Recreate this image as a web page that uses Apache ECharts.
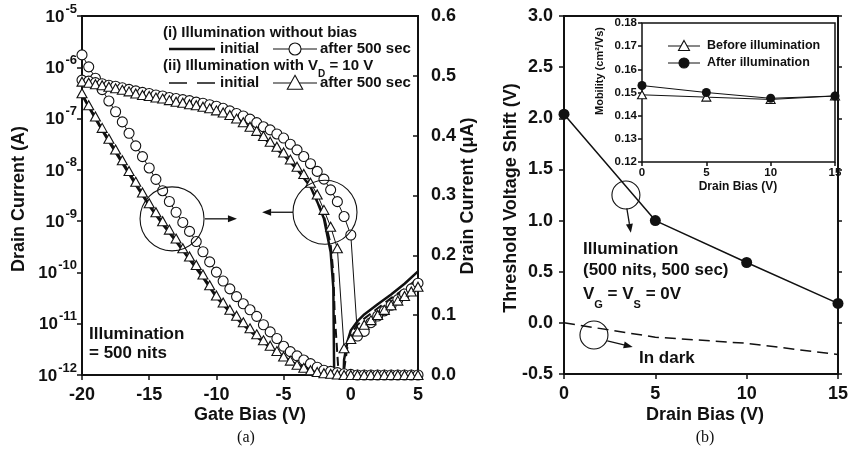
<!DOCTYPE html>
<html>
<head>
<meta charset="utf-8">
<script src="https://cdn.jsdelivr.net/npm/echarts@6/dist/echarts.min.js"></script>
<style>
  html, body { margin: 0; padding: 0; background: #fff; }
  #chart { width: 851px; height: 451px; }
</style>
</head>
<body>
<div id="chart"></div>
<script>
const FONT = '"Liberation Sans", Arial, sans-serif';
const INK = '#111';

// ---------- panel (a): transfer curves ----------
// gate bias of the marker curves (V)
const gateBias = [-20, -19.5, -19, -18.5, -18, -17.5, -17, -16.5, -16, -15.5, -15, -14.5, -14, -13.5, -13,
  -12.5, -12, -11.5, -11, -10.5, -10, -9.5, -9, -8.5, -8, -7.5, -7, -6.5, -6, -5.5, -5, -4.5, -4, -3.5, -3,
  -2.5, -2, -1.5, -1, -0.5, 0, 0.5, 1, 1.5, 2, 2.5, 3, 3.5, 4, 4.5, 5];

// log10 of drain current (A)
const logAfterNoBias = [-6.25, -6.27, -6.30, -6.32, -6.35, -6.37, -6.40, -6.43, -6.46, -6.49, -6.51, -6.54, -6.56,
  -6.59, -6.61, -6.63, -6.65, -6.68, -6.70, -6.73, -6.76, -6.80, -6.85, -6.90, -6.95, -7.01, -7.08, -7.16, -7.22,
  -7.30, -7.38, -7.50, -7.61, -7.74, -7.88, -8.03, -8.18, -8.39, -8.62, -8.91, -9.27, -11.24, -11.15, -10.98,
  -10.85, -10.75, -10.64, -10.53, -10.42, -10.32, -10.21];
const logAfterVd = [-6.28, -6.30, -6.33, -6.35, -6.38, -6.41, -6.44, -6.47, -6.51, -6.54, -6.56, -6.59, -6.61,
  -6.64, -6.67, -6.69, -6.72, -6.74, -6.77, -6.80, -6.84, -6.88, -6.93, -7.00, -7.07, -7.16, -7.24, -7.34, -7.45,
  -7.55, -7.66, -7.80, -7.94, -8.08, -8.25, -8.48, -8.78, -9.11, -9.53, -11.48, -11.30, -11.15, -11.02, -10.93,
  -10.83, -10.73, -10.64, -10.55, -10.46, -10.37, -10.28];

// plain (initial) log curves, own sampling around the drop
const gateLogLine = [-20, -19, -18, -17, -16, -15, -14, -13, -12, -11, -10, -9, -8, -7, -6, -5, -4, -3,
  -2.5, -2, -1.5, -1.3, -1.2, -0.65, -0.5, -0.25, 0, 0.5, 1, 2, 3, 4, 5];
const logInitNoBias = [-6.27, -6.32, -6.38, -6.44, -6.51, -6.57, -6.62, -6.68, -6.73, -6.79, -6.86, -6.95, -7.09,
  -7.27, -7.48, -7.71, -7.99, -8.33, -8.62, -8.95, -9.6, -10.3, -13, -13, -11.7, -11.35, -11.13, -10.95, -10.82,
  -10.62, -10.43, -10.22, -9.98];
const logInitVd = [-6.29, -6.34, -6.39, -6.45, -6.52, -6.58, -6.63, -6.69, -6.74, -6.80, -6.87, -6.96, -7.10,
  -7.28, -7.49, -7.72, -7.99, -8.32, -8.6, -8.9, -9.45, -10.0, -10.8, -13, -11.9, -11.45, -11.2, -11.02, -10.9,
  -10.7, -10.5, -10.32, -10.12];

// linear drain current (uA), right axis
const linAfterNoBias = [0.535, 0.515, 0.496, 0.477, 0.458, 0.440, 0.423, 0.404, 0.383, 0.365, 0.346, 0.327, 0.308,
  0.290, 0.272, 0.255, 0.240, 0.223, 0.206, 0.189, 0.172, 0.157, 0.144, 0.131, 0.119, 0.109, 0.098, 0.084, 0.072,
  0.061, 0.048, 0.039, 0.032, 0.025, 0.019, 0.013, 0.008, 0.006, 0.004, 0.002, 0.001, 0, 0, 0, 0, 0, 0, 0, 0, 0, 0];
const linAfterVd = [0.471, 0.451, 0.432, 0.413, 0.395, 0.377, 0.359, 0.341, 0.323, 0.305, 0.287, 0.272, 0.257,
  0.243, 0.228, 0.212, 0.198, 0.184, 0.168, 0.150, 0.133, 0.121, 0.109, 0.099, 0.088, 0.078, 0.068, 0.058, 0.049,
  0.040, 0.031, 0.024, 0.017, 0.012, 0.008, 0.005, 0.003, 0.002, 0.001, 0, 0, 0, 0, 0, 0, 0, 0, 0, 0, 0, 0];
const gateLinLine = [-20, -19, -18, -17, -16, -15, -14, -13, -12, -11, -10, -9, -8, -7, -6, -5, -4, -3, -2, -1,
  0, 1, 2, 3, 4, 5];
const linInitNoBias = [0.468, 0.428, 0.390, 0.354, 0.318, 0.283, 0.252, 0.223, 0.193, 0.163, 0.130, 0.105, 0.084,
  0.064, 0.046, 0.030, 0.017, 0.0085, 0.003, 0.0008, 0, 0, 0, 0, 0, 0];
const linInitVd = [0.470, 0.430, 0.392, 0.356, 0.320, 0.285, 0.254, 0.225, 0.195, 0.165, 0.132, 0.106, 0.085,
  0.065, 0.047, 0.031, 0.018, 0.009, 0.0035, 0.001, 0, 0, 0, 0, 0, 0];

// ---------- panel (b): threshold shift ----------
const drainBias = [0, 5, 10, 15];
const shiftLight = [2.04, 1.0, 0.59, 0.19];
const shiftDark = [0, -0.14, -0.2, -0.31];
const mobBefore = [0.149, 0.148, 0.147, 0.1485];
const mobAfter = [0.153, 0.150, 0.1475, 0.1485];

const pairs = (xs, ys) => xs.map((x, i) => [x, ys[i]]);
const pow10 = (xs, ys) => xs.map((x, i) => [x, Math.pow(10, ys[i])]);

const lbl = (size, extra) => Object.assign({ fontFamily: FONT, fontWeight: 'bold', fontSize: size, color: INK }, extra || {});
const tick = (inside, len) => ({ show: true, inside: inside, length: len, lineStyle: { color: INK, width: 1.5 } });
const noLine = { show: false, onZero: false };

const openMark = { color: '#fff', borderColor: INK, borderWidth: 1.1 };

const chart = echarts.init(document.getElementById('chart'));

chart.setOption({
  animation: false,
  backgroundColor: '#fff',
  grid: [
    { left: 82, top: 16, width: 336, height: 359, show: true, borderColor: INK, borderWidth: 2 },
    { left: 564, top: 16, width: 279, height: 358, show: true, borderColor: INK, borderWidth: 2 },
    { left: 642, top: 23, width: 193, height: 139, show: true, borderColor: INK, borderWidth: 1.5, backgroundColor: '#fff', z: 5 }
  ],
  xAxis: [
    { gridIndex: 0, type: 'value', min: -20, max: 5, interval: 5, axisLine: noLine, splitLine: { show: false },
      axisTick: tick(false, 5), axisLabel: lbl(18, { margin: 11 }) },
    { gridIndex: 1, type: 'value', min: 0, max: 15, interval: 5, axisLine: noLine, splitLine: { show: false },
      axisTick: tick(false, 5), axisLabel: lbl(18, { margin: 11 }) },
    { gridIndex: 2, type: 'value', min: 0, max: 15, interval: 5, axisLine: noLine, splitLine: { show: false }, z: 6,
      axisTick: tick(false, 4), axisLabel: lbl(11.5, { margin: 5 }) }
  ],
  yAxis: [
    { gridIndex: 0, type: 'log', logBase: 10, min: 1e-12, max: 1e-5, splitNumber: 7, axisLine: noLine,
      splitLine: { show: false }, minorTick: { show: false }, axisTick: tick(false, 5),
      axisLabel: {
        margin: 5, padding: [0, 0, 3, 0],
        formatter: v => '{b|10}{e|' + Math.round(Math.log10(v)) + '}',
        rich: {
          b: { fontFamily: FONT, fontWeight: 'bold', fontSize: 17, color: INK, lineHeight: 18, padding: [5, 0, 0, 0] },
          e: { fontFamily: FONT, fontWeight: 'bold', fontSize: 13, color: INK, lineHeight: 12, padding: [0, 0, 11, 1] }
        }
      } },
    { gridIndex: 0, type: 'value', position: 'right', min: 0, max: 0.6, interval: 0.1, axisLine: noLine,
      splitLine: { show: false }, axisTick: tick(true, 5),
      axisLabel: lbl(18, { margin: 13, formatter: v => v.toFixed(1) }) },
    { gridIndex: 1, type: 'value', min: -0.5, max: 3.0, interval: 0.5, axisLine: noLine, splitLine: { show: false },
      axisTick: tick(false, 5), axisLabel: lbl(18, { margin: 11, formatter: v => v.toFixed(1) }) },
    { gridIndex: 1, type: 'value', position: 'right', min: -0.5, max: 3.0, interval: 0.5, axisLine: noLine,
      splitLine: { show: false }, axisTick: tick(false, 4), axisLabel: { show: false } },
    { gridIndex: 2, type: 'value', min: 0.12, max: 0.18, interval: 0.01, axisLine: noLine, splitLine: { show: false }, z: 6,
      axisTick: tick(false, 4), axisLabel: lbl(11.5, { margin: 5, formatter: v => v.toFixed(2) }) }
  ],
  series: [
    // (a) linear scale, right axis
    { type: 'line', xAxisIndex: 0, yAxisIndex: 1, data: pairs(gateLinLine, linInitNoBias), symbol: 'none',
      lineStyle: { color: INK, width: 2.5 }, z: 2 },
    { type: 'line', xAxisIndex: 0, yAxisIndex: 1, data: pairs(gateLinLine, linInitVd), symbol: 'none',
      lineStyle: { color: INK, width: 2, type: [9, 5] }, z: 2 },
    { type: 'line', xAxisIndex: 0, yAxisIndex: 1, data: pairs(gateBias, linAfterNoBias), symbol: 'circle',
      symbolSize: 10, itemStyle: openMark, lineStyle: { color: INK, width: 1 }, z: 3 },
    { type: 'line', xAxisIndex: 0, yAxisIndex: 1, data: pairs(gateBias, linAfterVd), symbol: 'triangle',
      symbolSize: [10, 9], itemStyle: openMark, lineStyle: { color: INK, width: 1 }, z: 3 },
    // (a) log scale, left axis
    { type: 'line', xAxisIndex: 0, yAxisIndex: 0, data: pow10(gateLogLine, logInitNoBias), symbol: 'none',
      lineStyle: { color: INK, width: 2.5 }, z: 2 },
    { type: 'line', xAxisIndex: 0, yAxisIndex: 0, data: pow10(gateLogLine, logInitVd), symbol: 'none',
      lineStyle: { color: INK, width: 2, type: [9, 5] }, z: 2 },
    { type: 'line', xAxisIndex: 0, yAxisIndex: 0, data: pow10(gateBias, logAfterNoBias), symbol: 'circle',
      symbolSize: 10, itemStyle: openMark, lineStyle: { color: INK, width: 1 }, z: 3 },
    { type: 'line', xAxisIndex: 0, yAxisIndex: 0, data: pow10(gateBias, logAfterVd), symbol: 'triangle',
      symbolSize: [10, 9], itemStyle: openMark, lineStyle: { color: INK, width: 1 }, z: 3 },
    // (b) threshold shift
    { type: 'line', xAxisIndex: 1, yAxisIndex: 2, data: pairs(drainBias, shiftLight), symbol: 'circle',
      symbolSize: 11, itemStyle: { color: INK }, lineStyle: { color: INK, width: 1.5 }, z: 3 },
    { type: 'line', xAxisIndex: 1, yAxisIndex: 2, data: pairs(drainBias, shiftDark), symbol: 'none',
      lineStyle: { color: INK, width: 1.5, type: [11, 6] }, z: 3 },
    // inset mobility
    { type: 'line', xAxisIndex: 2, yAxisIndex: 4, data: pairs(drainBias, mobBefore), symbol: 'triangle',
      symbolSize: [9, 8], itemStyle: openMark, lineStyle: { color: INK, width: 1 }, z: 7 },
    { type: 'line', xAxisIndex: 2, yAxisIndex: 4, data: pairs(drainBias, mobAfter), symbol: 'circle',
      symbolSize: 9, itemStyle: { color: INK }, lineStyle: { color: INK, width: 1 }, z: 7 }
  ]
});

// ---------- annotations ----------
const txt = (x, y, text, size, opt) => Object.assign({
  type: 'text', x: x, y: y, z: 20,
  style: Object.assign({ text: text, fill: INK, font: 'bold ' + size + 'px ' + FONT, align: 'left', verticalAlign: 'middle' }, (opt && opt.style) || {})
}, opt && opt.rotation ? { rotation: opt.rotation } : {});
const seg = (x1, y1, x2, y2, w, dash) => ({
  type: 'line', z: 20, shape: { x1: x1, y1: y1, x2: x2, y2: y2 },
  style: { stroke: INK, lineWidth: w, lineDash: dash || null }
});
const ring = (c, r, fill) => ({ type: 'circle', z: 21, shape: { cx: c[0], cy: c[1], r: r },
  style: { stroke: INK, lineWidth: 1.1, fill: fill || 'none' } });
const tri = (cx, cy, s, fill) => ({ type: 'polygon', z: 21,
  shape: { points: [[cx, cy - s * 0.55], [cx + s * 0.55, cy + s * 0.45], [cx - s * 0.55, cy + s * 0.45]] },
  style: { stroke: INK, lineWidth: 1.1, fill: fill } });
function arrow(p, q) {
  const dx = q[0] - p[0], dy = q[1] - p[1], L = Math.hypot(dx, dy);
  const ux = dx / L, uy = dy / L, h = 9, w = 3.5;
  const bx = q[0] - ux * h, by = q[1] - uy * h;
  return [
    seg(p[0], p[1], bx, by, 1.3),
    { type: 'polygon', z: 20, shape: { points: [[q[0], q[1]], [bx - uy * w, by + ux * w], [bx + uy * w, by - ux * w]] },
      style: { fill: INK } }
  ];
}

const pa = v => chart.convertToPixel({ xAxisIndex: 0, yAxisIndex: 1 }, v);
const pb = v => chart.convertToPixel({ xAxisIndex: 1, yAxisIndex: 2 }, v);

const subRich = {
  m: { font: 'bold 15px ' + FONT, fill: INK, lineHeight: 18, verticalAlign: 'top' },
  s: { font: 'bold 10px ' + FONT, fill: INK, lineHeight: 10, verticalAlign: 'top', padding: [11, 0, 0, 0] }
};
const subRich17 = {
  m: { font: 'bold 17px ' + FONT, fill: INK, lineHeight: 20, verticalAlign: 'top' },
  s: { font: 'bold 11px ' + FONT, fill: INK, lineHeight: 11, verticalAlign: 'top', padding: [13, 0, 0, 0] }
};

const graphics = [
  // axis titles
  txt(19, 199, 'Drain Current (A)', 18, { rotation: Math.PI / 2, style: { align: 'center' } }),
  txt(468, 196, 'Drain Current (\u03bcA)', 18, { rotation: Math.PI / 2, style: { align: 'center' } }),
  txt(250, 415, 'Gate Bias (V)', 18, { style: { align: 'center' } }),
  txt(511, 198, 'Threshold Voltage Shift (V)', 18, { rotation: Math.PI / 2, style: { align: 'center' } }),
  txt(705, 415, 'Drain Bias (V)', 18, { style: { align: 'center' } }),
  txt(738, 187, 'Drain Bias (V)', 12, { style: { align: 'center' } }),
  txt(600, 71, 'Mobility (cm\u00b2/Vs)', 11, { rotation: Math.PI / 2, style: { align: 'center' } }),
  { type: 'text', x: 246, y: 438, z: 20, style: { text: '(a)', fill: INK, font: '16px "Liberation Serif", serif', align: 'center', verticalAlign: 'middle' } },
  { type: 'text', x: 705, y: 438, z: 20, style: { text: '(b)', fill: INK, font: '16px "Liberation Serif", serif', align: 'center', verticalAlign: 'middle' } },

  // legend of (a)
  txt(163, 33, '(i) Illumination without bias', 15),
  seg(169, 49, 215, 49, 2.5),
  txt(220, 49, 'initial', 15),
  seg(273, 49, 317, 49, 1.2),
  ring([295, 49], 6, '#fff'),
  txt(320, 49, 'after 500 sec', 15),
  { type: 'text', x: 163, y: 67, z: 20, style: { text: '{m|(ii) Illumination with V}{s|D}{m| = 10 V}', rich: subRich, align: 'left', verticalAlign: 'middle' } },
  seg(169, 83, 215, 83, 1.6, [18, 10]),
  txt(220, 83, 'initial', 15),
  seg(273, 83, 317, 83, 1.2),
  tri(295, 83, 14, '#fff'),
  txt(320, 83, 'after 500 sec', 15),

  // text notes in (a)
  txt(89, 334, 'Illumination', 17),
  txt(89, 353, '= 500 nits', 17),

  // inset legend
  seg(668, 46, 700, 46, 1),
  tri(684, 46, 10, '#fff'),
  txt(707, 46, 'Before illumination', 12.5),
  seg(668, 63, 700, 63, 1),
  ring([684, 63], 5, INK),
  txt(707, 63, 'After illumination', 12.5),

  // text notes in (b)
  txt(583, 249, 'Illumination', 17),
  txt(583, 270, '(500 nits, 500 sec)', 17),
  { type: 'text', x: 583, y: 296, z: 20, style: { text: '{m|V}{s|G}{m| = V}{s|S}{m| = 0V}', rich: subRich17, align: 'left', verticalAlign: 'middle' } },
  txt(639, 358, 'In dark', 17)
];

// circles and arrows placed in data units
const notesA = [
  { c: [-13.3, 0.261], from: [-10.85, 0.261], to: [-8.47, 0.261] },
  { c: [-1.92, 0.272], from: [-4.3, 0.272], to: [-6.6, 0.272] }
];
notesA.forEach(n => {
  graphics.push(ring(pa(n.c), 32));
  arrow(pa(n.from), pa(n.to)).forEach(g => graphics.push(g));
});
const notesB = [
  { c: [3.39, 1.25], from: [3.44, 1.12], to: [3.66, 0.88] },
  { c: [1.64, -0.118], from: [2.37, -0.177], to: [3.76, -0.235] }
];
notesB.forEach(n => {
  graphics.push(ring(pb(n.c), 14));
  arrow(pb(n.from), pb(n.to)).forEach(g => graphics.push(g));
});

chart.setOption({ graphic: graphics });
</script>
</body>
</html>
